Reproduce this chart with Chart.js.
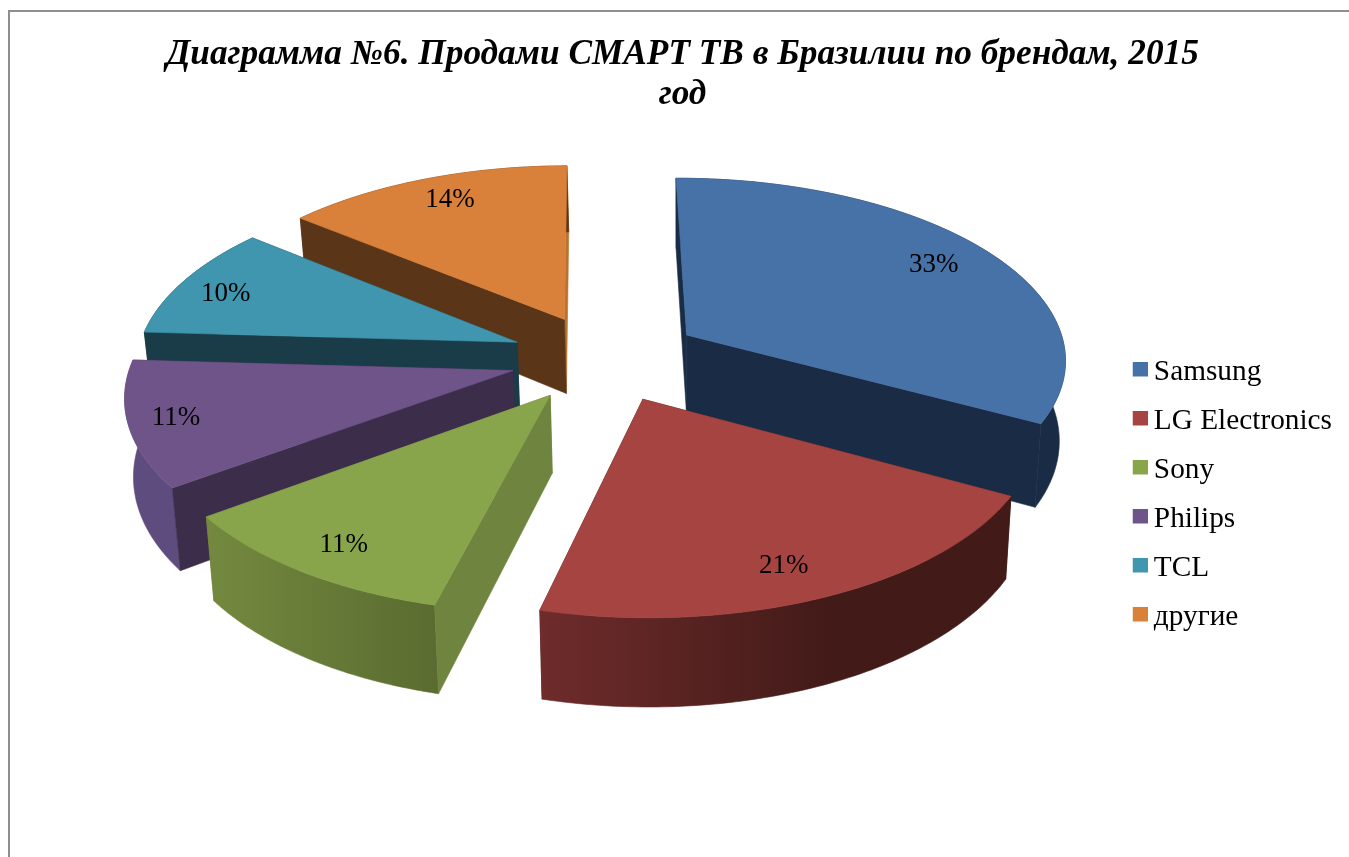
<!DOCTYPE html>
<html lang="ru">
<head>
<meta charset="utf-8">
<style>
html,body{margin:0;padding:0;background:#fff;overflow:hidden;width:1349px;height:857px}
#frame{position:absolute;left:8px;top:10px;right:-5px;bottom:-5px;border-left:2px solid #8f8f8f;border-top:2px solid #8f8f8f}
canvas{position:absolute;left:0;top:0}
</style>
<script src="https://cdn.jsdelivr.net/npm/chart.js@4"></script>
</head>
<body>
<div id="frame"></div>
<canvas id="c" width="1349" height="857"></canvas>
<script>
const categories = ['Samsung','LG Electronics','Sony','Philips','TCL','другие'];
const shares = [33,21,11,11,10,14];
const titleLines = ['Диаграмма №6. Продами СМАРТ ТВ в Бразилии по брендам, 2015','год'];

const topColors  = ['#4672A8','#A64442','#89A54C','#6F5489','#4096AE','#D9803B'];
const faceColors = ['#1A2C45','#471C1A','#6E843F','#3C2D4A','#1A3C48','#5A3517'];
const farFaces   = ['#1A2C45','#471C1A','#6E843F','#3C2D4A','#1A3C48','#B8722F'];
const wallLeft   = ['#1A2C45','#6E2C2B','#74893F','#5F4C7E','#1A3C48','#5A3517'];
const wallRight  = ['#1A2C45','#421A18','#5A6C30','#5F4C7E','#1A3C48','#5A3517'];
const wallStop   = [1,.62,1,1,1,1];
const wallDepth  = [80,76,76,76,76,76];
const explode    = [81,78,78,78,78,78];
const labelReach = [.82,.845,.857,.88,.857,.835];
const labelTurn  = [0,1.8,-.7,0,-1.9,1];
const paintOrder = [5,4,3,0,2,1];

// 3D view of the flat pie
const view = {cx:604, cy:358, tilt:.447, persp:.0003, radius:405, widen:.94, explodeX:.96, taper:.984, taperX:680};

function project(wx, wy, depth){
  const s = 1/(1 - view.persp*wy);
  let x = view.cx + wx*s;
  if(depth) x = view.taperX + (x-view.taperX)*view.taper;
  return {x, y: view.cy + view.tilt*wy*s + depth*s};
}

const pie3d = {
  id:'pie3d',
  beforeDatasetsDraw(chart){
    const ctx = chart.ctx, arcs = chart.getDatasetMeta(0).data;
    const geo = arcs.map(el=>{
      const z = view.radius/el.outerRadius;
      const mid = (el.startAngle+el.endAngle)/2, off = el.options.offset*z;
      return {a0:el.startAngle, a1:el.endAngle, mid, ax:Math.cos(mid)*off*view.explodeX, ay:Math.sin(mid)*off, r:el.outerRadius*z};
    });
    const at=(g,t,f,depth)=>project(g.ax+g.r*f*view.widen*Math.cos(t), g.ay+g.r*f*Math.sin(t), depth);
    const rim = (g,depth,rev)=>{
      const pts=[], n=80;
      for(let i=0;i<=n;i++) pts.push(at(g,g.a0+(g.a1-g.a0)*(rev?(n-i)/n:i/n),1,depth));
      return pts;
    };
    const fillPoly=(pts,style)=>{
      ctx.beginPath();
      pts.forEach((p,i)=> i?ctx.lineTo(p.x,p.y):ctx.moveTo(p.x,p.y));
      ctx.closePath();
      ctx.fillStyle=style; ctx.strokeStyle=style; ctx.lineWidth=.6;
      ctx.fill(); ctx.stroke();
    };
    ctx.save();
    paintOrder.forEach(i=>{
      const g=geo[i], d=wallDepth[i];
      const top=rim(g,0,false), bot=rim(g,d,true);
      const xs=top.map(p=>p.x);
      const grad=ctx.createLinearGradient(Math.min(...xs),0,Math.max(...xs),0);
      grad.addColorStop(0,wallLeft[i]); grad.addColorStop(wallStop[i],wallRight[i]);
      const apexT=project(g.ax,g.ay,0), apexB=project(g.ax,g.ay,d);
      const startFace=[apexT,top[0],bot[bot.length-1],apexB], endFace=[apexT,top[top.length-1],bot[0],apexB];
      const startFront=-Math.cos(g.a0)>0, endFront=Math.cos(g.a1)>0;
      if(!startFront) fillPoly(startFace,farFaces[i]);
      if(!endFront) fillPoly(endFace,farFaces[i]);
      fillPoly(top.concat(bot),grad);
      if(startFront) fillPoly(startFace,faceColors[i]);
      if(endFront) fillPoly(endFace,faceColors[i]);
      fillPoly([apexT].concat(top),topColors[i]);
    });
    ctx.font='27px "Liberation Serif"';
    ctx.fillStyle='#000'; ctx.textAlign='center'; ctx.textBaseline='middle';
    geo.forEach((g,i)=>{
      const p=at(g,g.mid+labelTurn[i]*Math.PI/180,labelReach[i],0);
      ctx.fillText(shares[i]+'%',p.x,p.y);
    });
    ctx.restore();
    return false;
  }
};

const legendShift = {
  id:'legendShift',
  afterLayout(chart){
    const l=chart.legend;
    l.left-=7; l.right-=7; l.top+=66; l.bottom+=66;
  }
};

function swatch(color){
  const c=document.createElement('canvas'); c.width=18; c.height=21;
  const x=c.getContext('2d'); x.fillStyle=color; x.fillRect(3,0,15,15);
  return c;
}

new Chart(document.getElementById('c'),{
  type:'pie',
  data:{labels:categories,datasets:[{data:shares,backgroundColor:topColors,borderWidth:0,offset:explode}]},
  options:{
    responsive:false,animation:false,
    rotation:-0.3,
    layout:{padding:{left:16,right:0,top:0,bottom:0}},
    plugins:{
      tooltip:{enabled:false},
      title:{display:true,text:titleLines,color:'#000',align:'center',
        font:{family:'"Liberation Serif"',size:35.3,weight:'bold',style:'italic',lineHeight:1.133},
        padding:{top:35,bottom:17}},
      legend:{position:'right',
        labels:{color:'#000',font:{family:'"Liberation Serif"',size:29.3,lineHeight:1},
          usePointStyle:true,boxWidth:1,boxHeight:15,padding:19.7,
          generateLabels:()=>categories.map((t,i)=>({text:t,index:i,fillStyle:topColors[i],pointStyle:swatch(topColors[i]),lineWidth:0,hidden:false,fontColor:'#000'}))}}
    }
  },
  plugins:[pie3d,legendShift]
});
</script>
</body>
</html>
